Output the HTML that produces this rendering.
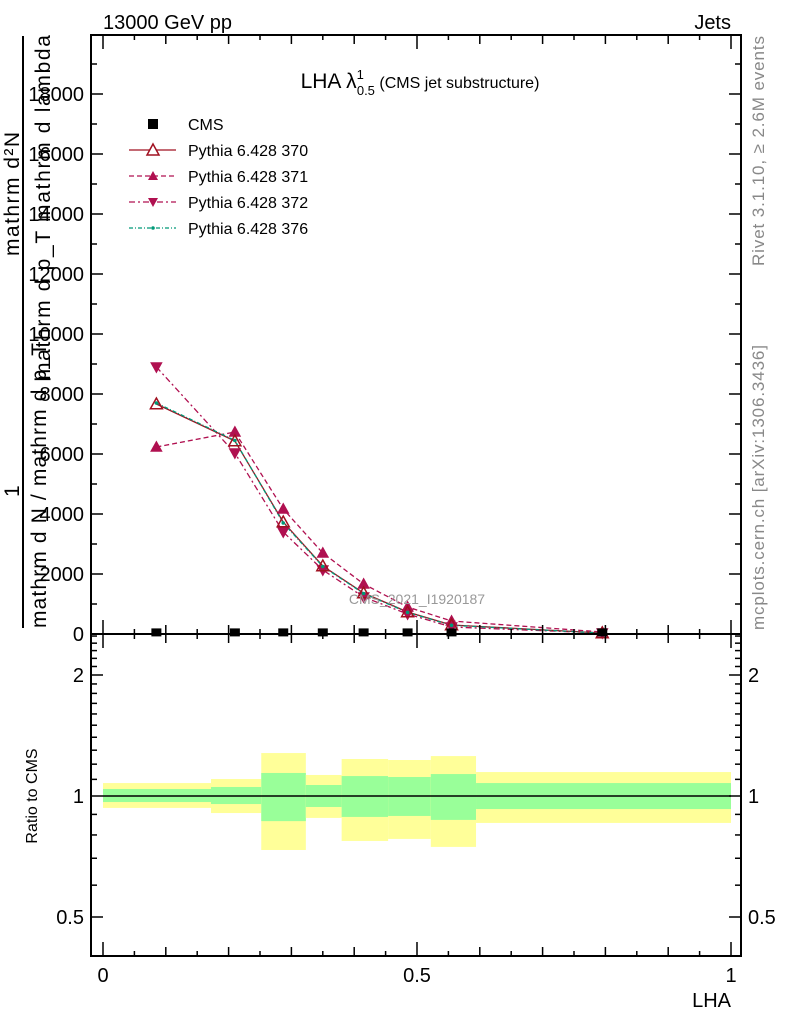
<!DOCTYPE html>
<html><head><meta charset="utf-8"><style>
body{margin:0;background:#fff}
svg{display:block;font-family:"Liberation Sans",sans-serif}
</style></head><body>
<svg id="c" width="786" height="1024" xmlns="http://www.w3.org/2000/svg">
<text x="103" y="29" font-size="20">13000 GeV pp</text>
<text x="731" y="29" font-size="20" text-anchor="end">Jets</text>
<g id="ratio"></g>
<g id="main"></g>
<rect x="91" y="35" width="650" height="599" fill="none" stroke="#000" stroke-width="2"/>
<rect x="91" y="634" width="650" height="322" fill="none" stroke="#000" stroke-width="2"/>
<text x="420" y="88" font-size="21" text-anchor="middle">LHA λ<tspan font-size="13" dy="-9">1</tspan><tspan font-size="13" dx="-7" dy="16">0.5</tspan><tspan font-size="16" dy="-7"> (CMS jet substructure)</tspan></text>
<text x="417" y="604" font-size="14" fill="#999" text-anchor="middle">CMS_2021_I1920187</text>
<text transform="translate(764,266) rotate(-90)" font-size="17" fill="#888" textLength="230">Rivet 3.1.10, ≥ 2.6M events</text>
<text transform="translate(764,630) rotate(-90)" font-size="17" fill="#888" textLength="285">mcplots.cern.ch [arXiv:1306.3436]</text>
<g font-size="21">
<text transform="translate(19,256) rotate(-90)" textLength="124">mathrm d²N</text>
<line x1="23" y1="36" x2="23" y2="628" stroke="#000" stroke-width="2"/>
<text transform="translate(19,497) rotate(-90)">1</text>
<text transform="translate(46,628) rotate(-90)" textLength="285">mathrm d N / mathrm d p_T</text>
<text transform="translate(50,380) rotate(-90)" textLength="345">mathrm d p_T mathrm d lambda</text>
</g>
<text transform="translate(37,796) rotate(-90)" font-size="16" text-anchor="middle">Ratio to CMS</text>
<text x="731" y="1007" font-size="20" text-anchor="end">LHA</text>
<g id="legend"></g>
</svg>
<script>
const xCenters=[0.085,0.21,0.287,0.35,0.415,0.485,0.555,0.795];
const cmsVals=[20,20,20,20,20,20,20,20];
const s370=[7667,6433,3733,2267,1367,733,300,33];
const s371=[6233,6733,4167,2700,1667,900,433,67];
const s372=[8900,6033,3400,2133,1233,667,233,33];
const s376=[7700,6450,3700,2250,1350,720,290,30];
const binEdges=[0,0.172,0.252,0.323,0.38,0.454,0.522,0.594,1.0];
const yellowHi=[1.077,1.102,1.279,1.128,1.236,1.229,1.257,1.147];
const yellowLo=[0.934,0.907,0.734,0.882,0.773,0.782,0.747,0.857];
const greenHi=[1.041,1.053,1.141,1.065,1.121,1.115,1.134,1.077];
const greenLo=[0.966,0.955,0.866,0.939,0.887,0.892,0.872,0.928];
const mainTicks=[0,2000,4000,6000,8000,10000,12000,14000,16000,18000];
const ratioTicks=[0.5,1,2];
const xTicks=[0,0.5,1];
const NS="http://www.w3.org/2000/svg";
const X=v=>103+v*628;
const Y=v=>634-v*0.03;
const R=v=>796-Math.log2(v)*121;
function mk(tag,attrs,parent){const e=document.createElementNS(NS,tag);for(const k in attrs)e.setAttribute(k,attrs[k]);parent.appendChild(e);return e;}
const main=document.getElementById('main'),ratio=document.getElementById('ratio'),svg=document.getElementById('c'),leg=document.getElementById('legend');
for(let i=0;i<binEdges.length-1;i++){
 const y=mk('rect',{x:X(binEdges[i]),width:X(binEdges[i+1])-X(binEdges[i]),y:R(yellowHi[i]),height:R(yellowLo[i])-R(yellowHi[i]),fill:'#ffff99'},ratio);
 
 
 const g=mk('rect',{x:X(binEdges[i]),width:X(binEdges[i+1])-X(binEdges[i]),y:R(greenHi[i]),height:R(greenLo[i])-R(greenHi[i]),fill:'#99ff99'},ratio);
 
 
}
const ref=mk('line',{x1:X(0),x2:X(1),y1:R(1),y2:R(1),stroke:'#000','stroke-width':1.5},ratio);


for(let v=0;v<=19000;v+=1000){const maj=v%2000==0,l=maj?12:6;const y=Y(v);if(y<36)continue;
 mk('line',{x1:91,x2:91+l,y1:y,y2:y,stroke:'#000','stroke-width':1.5},svg);mk('line',{x1:741,x2:741-l,y1:y,y2:y,stroke:'#000','stroke-width':1.5},svg);}
mainTicks.forEach(v=>{const t=mk('text',{x:84,y:Y(v)+7,'font-size':20,'text-anchor':'end'},svg);t.textContent=v;
 
 });
const rmin=[0.4,0.5,0.6,0.7,0.8,0.9,1,1.1,1.2,1.3,1.4,1.5,1.6,1.7,1.8,1.9,2,2.1,2.2,2.3,2.4,2.5];
rmin.forEach(v=>{const y=R(v);if(y<636||y>954)return;const l=ratioTicks.includes(v)?12:6;
 mk('line',{x1:91,x2:91+l,y1:y,y2:y,stroke:'#000','stroke-width':1.5},svg);mk('line',{x1:741,x2:741-l,y1:y,y2:y,stroke:'#000','stroke-width':1.5},svg);});
ratioTicks.forEach(v=>{const t=mk('text',{x:84,y:R(v)+7,'font-size':20,'text-anchor':'end'},svg);t.textContent=v;
 
 
 const t2=mk('text',{x:748,y:R(v)+7,'font-size':20},svg);t2.textContent=v;
 
 });
for(let i=0;i<=20;i++){const v=i*0.05,x=X(v);const l=i%10==0?14:(i%2==0?9:5);
 mk('line',{x1:x,x2:x,y1:634,y2:634-l,stroke:'#000','stroke-width':1.5},svg);mk('line',{x1:x,x2:x,y1:35,y2:35+l,stroke:'#000','stroke-width':1.5},svg);
 mk('line',{x1:x,x2:x,y1:956,y2:956-l,stroke:'#000','stroke-width':1.5},svg);mk('line',{x1:x,x2:x,y1:634,y2:634+l,stroke:'#000','stroke-width':1.5},svg);}
xTicks.forEach(v=>{const t=mk('text',{x:X(v),y:982,'font-size':20,'text-anchor':'middle'},svg);t.textContent=v;
 
 });
function line(vals,color,dash,name){const p=mk('polyline',{points:vals.map((v,i)=>X(xCenters[i])+','+Y(v)).join(' '),fill:'none',stroke:color,'stroke-width':1.3,'stroke-dasharray':dash},main);
 
 }
function tri(x,y,up,color,fill,s){const d=up?`M${x},${y-s}L${x+s},${y+s*0.8}L${x-s},${y+s*0.8}Z`:`M${x},${y+s}L${x+s},${y-s*0.8}L${x-s},${y-s*0.8}Z`;return mk('path',{d:d,fill:fill,stroke:color,'stroke-width':1.5},main);}
line(s372,'#b01050','6,3,2,3','series-372-line');
line(s371,'#b01050','5,3','series-371-line');
line(s370,'#a01020','','series-370-line');
line(s376,'#009977','4,2,1,2','series-376-line');
s372.forEach((v,i)=>{const m=tri(X(xCenters[i]),Y(v),false,'#b01050','#b01050',5);});
s371.forEach((v,i)=>{const m=tri(X(xCenters[i]),Y(v),true,'#b01050','#b01050',5);});
s370.forEach((v,i)=>{const m=tri(X(xCenters[i]),Y(v),true,'#a01020','none',6);});
s376.forEach((v,i)=>{const m=mk('circle',{cx:X(xCenters[i]),cy:Y(v),r:1.8,fill:'#009977'},main);});
cmsVals.forEach((v,i)=>{const m=mk('rect',{x:X(xCenters[i])-5,y:Y(v)-5,width:10,height:8,fill:'#000'},main);});
const L=[['CMS'],['Pythia 6.428 370','#a01020','',0],['Pythia 6.428 371','#b01050','5,3',1],['Pythia 6.428 372','#b01050','6,3,2,3',2],['Pythia 6.428 376','#009977','4,2,1,2',3]];
L.forEach((e,i)=>{const y=124+i*26;
 const t=mk('text',{x:188,y:y+6,'font-size':16},leg);t.textContent=e[0];
 
 
 if(i==0){mk('rect',{x:148,y:y-5,width:10,height:10,fill:'#000'},leg);return;}
 mk('line',{x1:129,x2:176,y1:y,y2:y,stroke:e[1],'stroke-width':1.3,'stroke-dasharray':e[2]},leg);
 if(e[3]==0)mk('path',{d:`M153,${y-6}L159,${y+5}L147,${y+5}Z`,fill:'#fff',stroke:e[1],'stroke-width':1.5},leg);
 if(e[3]==1)mk('path',{d:`M153,${y-5}L158,${y+4}L148,${y+4}Z`,fill:e[1]},leg);
 if(e[3]==2)mk('path',{d:`M153,${y+5}L158,${y-4}L148,${y-4}Z`,fill:e[1]},leg);
 if(e[3]==3)mk('circle',{cx:153,cy:y,r:1.8,fill:e[1]},leg);
});
</script>
</body></html>
